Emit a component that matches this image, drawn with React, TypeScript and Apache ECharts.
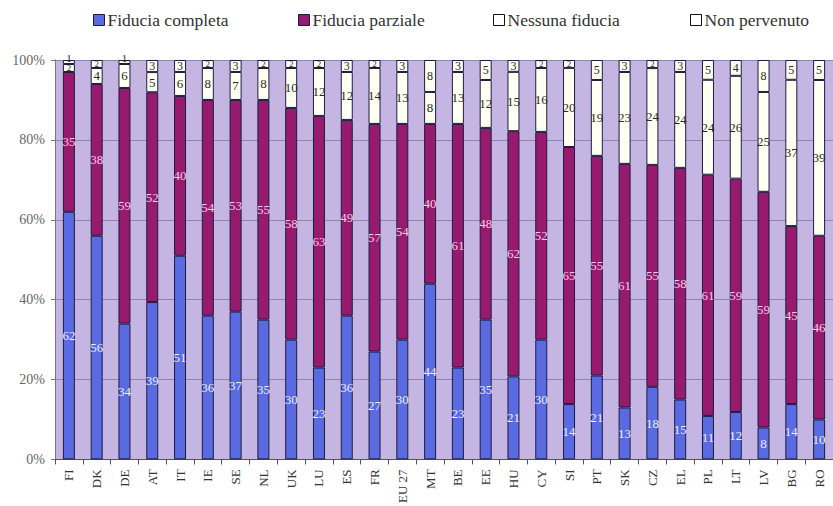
import React, { useEffect, useRef } from "react";
import * as echarts from "echarts";

const categories = ["FI","DK","DE","AT","IT","IE","SE","NL","UK","LU","ES","FR","EU 27","MT","BE","EE","HU","CY","SI","PT","SK","CZ","EL","PL","LT","LV","BG","RO"];
const fiduciaCompleta = [62,56,34,39,51,36,37,35,30,23,36,27,30,44,23,35,21,30,14,21,13,18,15,11,12,8,14,10];
const fiduciaParziale = [35,38,59,52,40,54,53,55,58,63,49,57,54,40,61,48,62,52,65,55,61,55,58,61,59,59,45,46];
const nessunaFiducia = [2,4,6,5,6,8,7,8,10,12,12,14,13,8,13,12,15,16,20,19,23,24,24,24,26,25,37,39];
const nonPervenuto = [1,2,1,3,3,2,3,2,2,2,3,2,3,8,3,5,3,2,2,5,3,2,3,5,4,8,5,5];
const yTicks = ["0%","20%","40%","60%","80%","100%"];

const SERIF = "Times New Roman, Liberation Serif, serif";

export default function App() {
  const ref = useRef<HTMLDivElement>(null);
  useEffect(() => {
    document.body.style.margin = "0";
    const chart = echarts.init(ref.current!, null, { renderer: "svg" });
    const totals = categories.map((_, i) => fiduciaCompleta[i] + fiduciaParziale[i] + nessunaFiducia[i] + nonPervenuto[i]);
    const mk = (arr: number[], top: boolean) =>
      arr.map((v, i) => {
        const item: any = { value: (v / totals[i]) * 100, raw: v };
        if (top && v === 1) item.label = { position: "top", distance: -3, fontSize: 11 };
        else if (v <= 2) item.label = { fontSize: 9 };
        return item;
      });
    const border = { borderColor: "#1c1c40", borderWidth: 1 };
    const lab = (color: string, size: number) => ({
      show: true,
      position: "inside" as const,
      color,
      fontFamily: SERIF,
      fontSize: size,
      formatter: (p: any) => String(p.data.raw),
    });
    const defs = [
      { name: "Fiducia completa", arr: fiduciaCompleta, color: "#5a6ae0", labelColor: "#eef0ff", size: 13 },
      { name: "Fiducia parziale", arr: fiduciaParziale, color: "#961a6e", labelColor: "#f6cde8", size: 13 },
      { name: "Nessuna fiducia", arr: nessunaFiducia, color: "#fffff2", labelColor: "#2a2a2a", size: 13 },
      { name: "Non pervenuto", arr: nonPervenuto, color: "#fffff2", labelColor: "#2a2a2a", size: 12 },
    ];
    const series = defs.map((s, k) => ({
      name: s.name,
      type: "bar" as const,
      stack: "tot",
      barWidth: 12,
      data: mk(s.arr, k === 3),
      itemStyle: { color: s.color, ...border },
      label: lab(s.labelColor, s.size),
    }));
    const legendPos = [93, 298, 493, 690];
    const legendItemStyles = [
      { color: "#5a6ae0", borderColor: "#1c1c40", borderWidth: 1 },
      { color: "#961a6e", borderColor: "#1c1c40", borderWidth: 1 },
      { color: "#ffffff", borderColor: "#111111", borderWidth: 1 },
      { color: "#ffffff", borderColor: "#111111", borderWidth: 1 },
    ];
    chart.setOption({
      animation: false,
      backgroundColor: "#ffffff",
      textStyle: { fontFamily: SERIF },
      legend: defs.map((s, i) => ({
        left: legendPos[i],
        top: 11,
        padding: 0,
        icon: "rect",
        itemWidth: 11,
        itemHeight: 11,
        itemGap: 0,
        selectedMode: false,
        textStyle: { fontFamily: SERIF, fontSize: 17.5, color: "#333", padding: [0, 0, 0, -2] },
        data: [{ name: s.name, itemStyle: legendItemStyles[i] }],
      })),
      grid: {
        left: 55,
        right: -6,
        top: 60,
        bottom: 44,
        show: true,
        backgroundColor: "#c4b5e3",
        borderWidth: 0,
      },
      xAxis: {
        type: "category",
        data: categories,
        axisLine: { lineStyle: { color: "#555", width: 1 } },
        axisTick: { show: true, alignWithLabel: false, length: 5, lineStyle: { color: "#555" } },
        axisLabel: { rotate: 90, fontFamily: SERIF, fontSize: 13, color: "#333", margin: 10, interval: 0 },
      },
      yAxis: {
        type: "value",
        min: 0,
        max: 100,
        interval: 20,
        axisLine: { show: true, lineStyle: { color: "#777" } },
        axisTick: { show: true, length: 4, lineStyle: { color: "#777" } },
        axisLabel: {
          fontFamily: SERIF,
          fontSize: 14,
          color: "#666",
          margin: 10,
          formatter: (v: number) => yTicks[Math.round(v / 20)],
        },
        splitLine: { show: true, lineStyle: { color: "#8c86aa", width: 1 } },
      },
      series,
    });
    return () => chart.dispose();
  }, []);
  return <div ref={ref} style={{ position: "fixed", left: 0, top: 0, width: 833, height: 506 }} />;
}
